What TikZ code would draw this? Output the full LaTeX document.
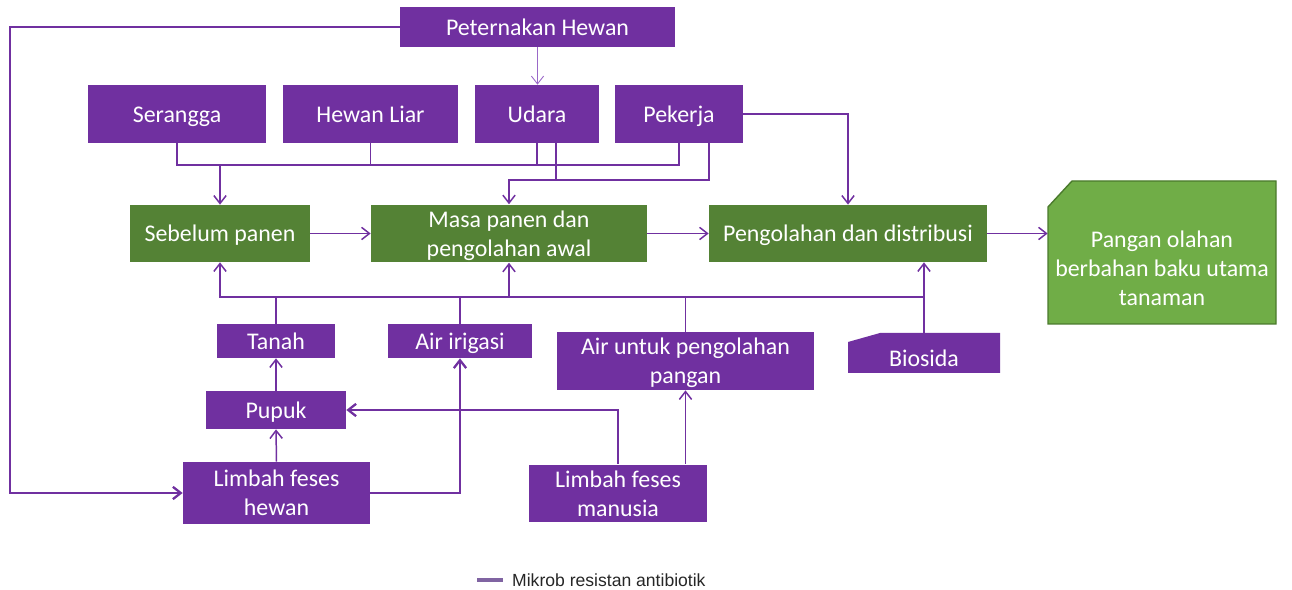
\documentclass[tikz,border=0pt]{standalone}
\usepackage{fontspec}
\setmainfont{Carlito}
\newfontfamily\legendfont{Liberation Sans}
\usetikzlibrary{arrows.meta}
\definecolor{pur}{HTML}{7030A0}
\definecolor{dgreen}{HTML}{548235}
\definecolor{lgreen}{HTML}{70AD47}
\definecolor{gborder}{HTML}{4A7A2C}
\definecolor{lpur}{HTML}{9A68C8}
\definecolor{legc}{HTML}{8064A2}
\newcommand{\topstrut}{\rule{0pt}{13pt}}
\newcommand{\botstrut}{\rule[-3.4pt]{0pt}{3.4pt}}
\begin{document}
\begin{tikzpicture}[x=0.02cm,y=-0.02cm,
  ttext/.style={text=white,inner sep=0pt,align=center,font=\fontsize{13.6}{16.5}\selectfont,
    execute at begin node=\topstrut, execute at end node=\botstrut},
  pbox/.style={ttext,fill=pur},
  gbox/.style={pbox,fill=dgreen},
  conn/.style={draw=pur,line width=0.85pt},
  heavy/.style={draw=pur,line width=1.3pt},
  tip/.style={-{Straight Barb[length=4.5pt,width=7pt]}},
  arr/.style={conn,tip},
  harr/.style={heavy,tip}]
\useasboundingbox (0,0) rectangle (1292,590);

% nodes
\node[pbox,minimum width=5.5cm,minimum height=0.8cm] (peter) at (537.5,27) {Peternakan Hewan};
\node[pbox,minimum width=3.56cm,minimum height=1.16cm] (serangga) at (177,114) {Serangga};
\node[pbox,minimum width=3.5cm,minimum height=1.16cm] (hewan) at (370.5,114) {Hewan Liar};
\node[pbox,minimum width=2.48cm,minimum height=1.16cm] (udara) at (537,114) {Udara};
\node[pbox,minimum width=2.56cm,minimum height=1.16cm] (pekerja) at (679,114) {Pekerja};
\node[gbox,minimum width=3.6cm,minimum height=1.14cm] (sebelum) at (220,233.5) {Sebelum panen};
\node[gbox,minimum width=5.52cm,minimum height=1.14cm] (masa) at (509,233.5) {\topstrut Masa panen dan\\pengolahan awal};
\node[gbox,minimum width=5.56cm,minimum height=1.14cm] (pengolahan) at (848,233.5) {Pengolahan dan distribusi};

\fill[lgreen,draw=gborder,line width=0.8pt] (1048,207) -- (1072,181) -- (1276,181) -- (1276,324) -- (1048,324) -- cycle;
\node[minimum width=4.56cm,minimum height=2.86cm,inner sep=0pt] (pangan) at (1162,252.5) {};
\node[ttext] (pangantxt) at (1162,268) {\topstrut Pangan olahan\\berbahan baku utama\\tanaman};

\node[pbox,minimum width=2.36cm,minimum height=0.68cm] (tanah) at (276,341) {Tanah};
\node[pbox,minimum width=2.88cm,minimum height=0.68cm] (airirig) at (460,341) {Air irigasi};
\node[pbox,minimum width=5.14cm,minimum height=1.16cm] (airuntuk) at (685.5,361) {\topstrut Air untuk pengolahan\\pangan};

\fill[pur] (848,342) -- (880,333) -- (1000,333) -- (1000,373) -- (848,373) -- cycle;
\node[minimum width=3.04cm,minimum height=0.8cm,inner sep=0pt] (biosida) at (924,353) {};
\node[ttext] (biosidatxt) at (924,358) {Biosida};

\node[pbox,minimum width=2.8cm,minimum height=0.76cm] (pupuk) at (276,410) {Pupuk};
\node[pbox,minimum width=3.74cm,minimum height=1.24cm] (limbahH) at (276.5,493) {\topstrut Limbah feses\\hewan};
\node[pbox,minimum width=3.56cm,minimum height=1.14cm] (limbahM) at (618,493.5) {\topstrut Limbah feses\\manusia};

% helper coordinates
\coordinate (h1) at (0,165);
\coordinate (h2) at (0,180);
\coordinate (h3) at (0,297);
\coordinate (cL) at (10,300);

% connectors
\draw[harr] (peter.west) -| (cL) |- (limbahH.west);
\draw[draw=lpur,line width=0.5pt,tip] (peter.south) -- (peter.south |- udara.north);

\draw[conn] (serangga.south) -- (serangga.south |- h1) -- (pekerja.south |- h1) -- (pekerja.south);
\draw[conn] (hewan.south) -- (hewan.south |- h1);
\draw[conn] (udara.south) -- (udara.south |- h1);
\draw[arr] (sebelum.north |- h1) -- (sebelum.north);

\draw[conn] ([xshift=0.38cm]udara.south) -- ([xshift=0.38cm]udara.south |- h2);
\draw[arr] ([xshift=0.6cm]pekerja.south) -- ([xshift=0.6cm]pekerja.south |- h2) -- (masa.north |- h2) -- (masa.north);

\draw[arr] (pekerja.east) -| (pengolahan.north);

\draw[arr] (sebelum.east) -- (masa.west);
\draw[arr] (masa.east) -- (pengolahan.west);
\draw[arr] (pengolahan.east) -- (pengolahan.east -| pangan.west);

\draw[arr] (tanah.north) -- (tanah.north |- h3) -| (sebelum.south);
\draw[conn] (airirig.north) -- (airirig.north |- h3) -- (tanah.north |- h3);
\draw[conn] (airirig.north |- h3) -- (masa.south |- h3);
\draw[arr] (airuntuk.north) -- (airuntuk.north |- h3) -| (masa.south);
\draw[conn] (airuntuk.north |- h3) -- (biosida.north |- h3);
\draw[arr] (biosida.north) -- (biosida.north |- pengolahan.south);

\draw[arr] (pupuk.north) -- (tanah.south);
\draw[arr] (limbahH.north) -- (pupuk.south);
\draw[harr] (limbahH.east) -| (airirig.south);
\draw[harr] (limbahM.north) |- (pupuk.east);
\draw[arr] (limbahM.north -| airuntuk.south) -- (airuntuk.south);

% legend
\coordinate (lg1) at (477,580);
\coordinate (lg2) at (503,580);
\draw[legc,line width=2.3pt] (lg1) -- (lg2);
\node[anchor=west,text=black!85,font=\legendfont\fontsize{10}{12}\selectfont] (legend) at (506,580) {Mikrob resistan antibiotik};
\end{tikzpicture}
\end{document}
